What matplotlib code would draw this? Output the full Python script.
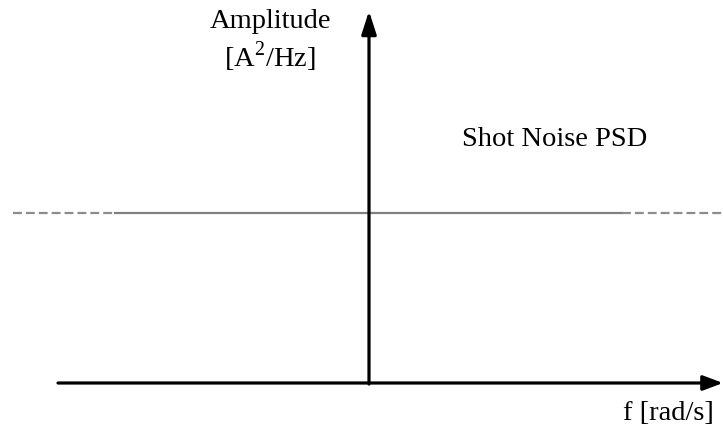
import numpy as np
import matplotlib.pyplot as plt

plt.rcParams['font.family'] = ['Liberation Serif', 'DejaVu Serif']

# frequency axis segments (pixel-like diagram units) and flat PSD level
freq_solid = [115, 622]
freq_dash_left = [13, 115]
freq_dash_right = [622, 723]
psd_level = 213

fig = plt.figure(figsize=(7.23, 4.30), dpi=100)
ax = fig.add_axes([0, 0, 1, 1])
ax.set_xlim(0, 723)
ax.set_ylim(430, 0)
ax.axis('off')

# flat shot-noise PSD
ax.plot(freq_solid, [psd_level] * 2, color='0.5', linewidth=1.6)
ax.plot(freq_dash_left, [psd_level] * 2, color='0.55', linewidth=1.6,
        linestyle=(0, (4, 1.8)))
ax.plot(freq_dash_right, [psd_level] * 2, color='0.55', linewidth=1.6,
        linestyle=(0, (4, 1.8)))

# axes arrows
ax.annotate('', xy=(723, 383), xytext=(58, 383),
            arrowprops=dict(arrowstyle='-|>,head_length=1.2,head_width=0.45',
                            color='black', lw=2.3, shrinkA=0, shrinkB=0))
ax.annotate('', xy=(369, 11), xytext=(369, 384),
            arrowprops=dict(arrowstyle='-|>,head_length=1.4,head_width=0.45',
                            color='black', lw=2.3, shrinkA=0, shrinkB=0))

ax.text(270, 22, 'Amplitude', fontsize=20.5, ha='center', va='center')
ax.text(270, 57, r'[A$^{\mathregular{2}}$/Hz]', fontsize=20.5, ha='center', va='center')
ax.text(555, 140, 'Shot Noise PSD', fontsize=20.5, ha='center', va='center')
ax.text(714, 413, 'f [rad/s]', fontsize=20.5, ha='right', va='center')

fig.savefig('out.png', dpi=100)
